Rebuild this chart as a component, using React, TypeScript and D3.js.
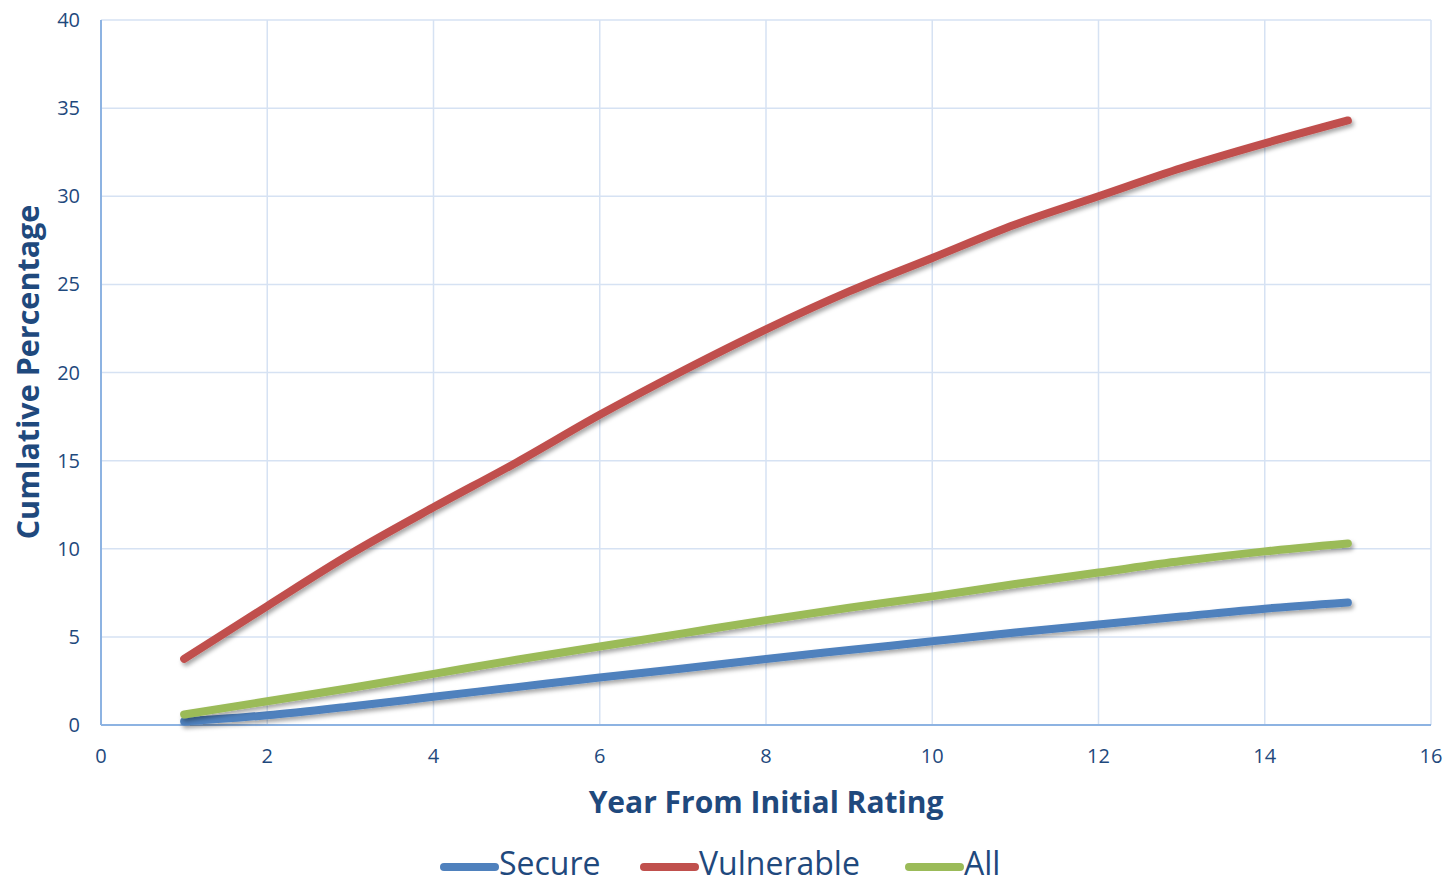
import React from "react";
import * as d3 from "d3";

const years = [1, 2, 3, 4, 5, 6, 7, 8, 9, 10, 11, 12, 13, 14, 15];
const secure = [0.2, 0.55, 1.05, 1.6, 2.15, 2.7, 3.2, 3.75, 4.25, 4.75, 5.25, 5.7, 6.15, 6.6, 6.95];
const vulnerable = [3.75, 6.75, 9.7, 12.35, 14.9, 17.6, 20.1, 22.45, 24.6, 26.5, 28.4, 30.0, 31.6, 33.0, 34.3];
const all = [0.6, 1.35, 2.1, 2.9, 3.7, 4.45, 5.2, 5.95, 6.65, 7.3, 8.0, 8.65, 9.3, 9.85, 10.3];
const xTicks = [0, 2, 4, 6, 8, 10, 12, 14, 16];
const yTicks = [0, 5, 10, 15, 20, 25, 30, 35, 40];

const seriesList = [
  { name: "Secure", values: secure, color: "#4f81bd" },
  { name: "Vulnerable", values: vulnerable, color: "#c0504d" },
  { name: "All", values: all, color: "#9bbb59" },
];

const W = 1447;
const H = 884;
const M = { left: 101, right: 1431, top: 20, bottom: 725 };
const textColor = "#1f497d";
const font = "'Open Sans', 'Noto Sans', sans-serif";

export default function App() {
  const x = d3.scaleLinear().domain([0, 16]).range([M.left, M.right]);
  const y = d3.scaleLinear().domain([0, 40]).range([M.bottom, M.top]);
  const line = d3
    .line<number>()
    .x((_, i) => x(years[i]))
    .y((d) => y(d))
    .curve(d3.curveCatmullRom.alpha(0.5));

  const legendItems = [
    { x: 440, tx: 499 },
    { x: 640, tx: 699 },
    { x: 905, tx: 964 },
  ];
  const legendY = 864;

  return (
    <svg
      width={W}
      height={H}
      style={{ position: "absolute", left: 0, top: 0, background: "#fff" }}
      fontFamily={font}
    >
      <defs>
        <filter id="shadow" x="-10%" y="-10%" width="120%" height="130%">
          <feDropShadow dx="2" dy="3" stdDeviation="2" floodColor="#000" floodOpacity="0.35" />
        </filter>
      </defs>
      {/* grid */}
      {yTicks.slice(1).map((t) => (
        <line key={"gy" + t} x1={M.left} x2={M.right} y1={y(t)} y2={y(t)} stroke="#d6e2f3" strokeWidth={1.5} />
      ))}
      {xTicks.slice(1).map((t) => (
        <line key={"gx" + t} x1={x(t)} x2={x(t)} y1={M.top} y2={M.bottom} stroke="#d6e2f3" strokeWidth={1.5} />
      ))}
      {/* axes */}
      <line x1={M.left} x2={M.left} y1={M.top} y2={M.bottom} stroke="#8db3e2" strokeWidth={2} />
      <line x1={M.left} x2={M.right} y1={M.bottom} y2={M.bottom} stroke="#8db3e2" strokeWidth={2} />
      {/* tick labels */}
      {yTicks.map((t) => (
        <text key={"ty" + t} x={80} y={y(t)} dy="0.35em" textAnchor="end" fontSize={20} fill={textColor}>
          {t}
        </text>
      ))}
      {xTicks.map((t) => (
        <text key={"tx" + t} x={x(t)} y={756} dy="0.35em" textAnchor="middle" fontSize={20} fill={textColor}>
          {t}
        </text>
      ))}
      {/* axis titles */}
      <text x={766} y={802} dy="0.35em" textAnchor="middle" fontSize={30} fontWeight="bold" fill={textColor}>
        Year From Initial Rating
      </text>
      <text
        transform={`translate(28,372) rotate(-90)`}
        dy="0.35em"
        textAnchor="middle"
        fontSize={30.5}
        fontWeight="bold"
        fill={textColor}
      >
        Cumlative Percentage
      </text>
      {/* series */}
      {seriesList.map((s) => (
        <path
          key={s.name}
          d={line(s.values) || ""}
          fill="none"
          stroke={s.color}
          strokeWidth={8}
          strokeLinecap="round"
          strokeLinejoin="round"
          filter="url(#shadow)"
        />
      ))}
      {/* legend */}
      {seriesList.map((s, i) => (
        <g key={"lg" + s.name}>
          <line
            x1={legendItems[i].x + 4}
            x2={legendItems[i].x + 55}
            y1={legendY + 3}
            y2={legendY + 3}
            stroke={s.color}
            strokeWidth={8}
            strokeLinecap="round"
          />
          <text x={legendItems[i].tx} y={legendY} dy="0.35em" fontSize={32} fill={textColor}>
            {s.name}
          </text>
        </g>
      ))}
    </svg>
  );
}
